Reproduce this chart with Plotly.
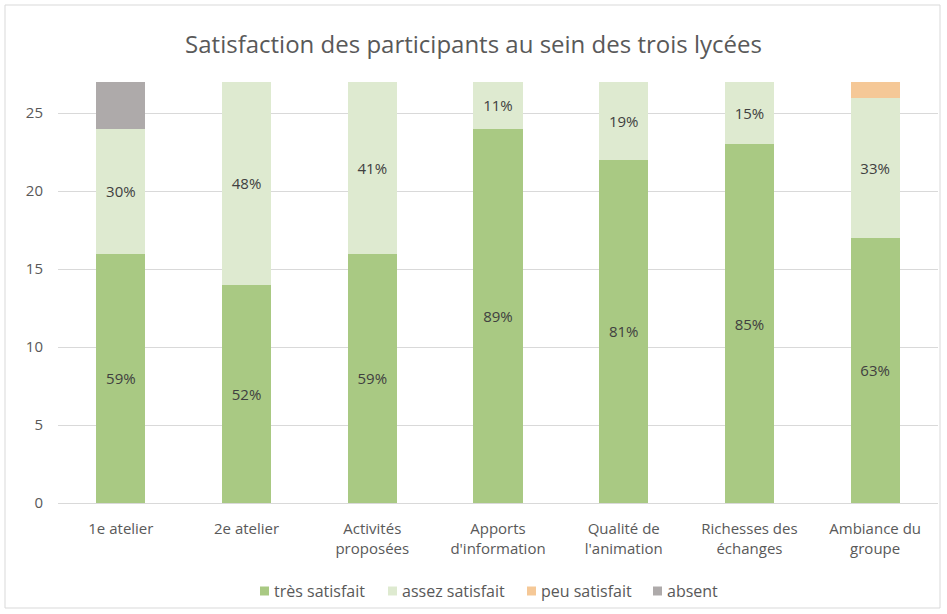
import plotly.graph_objects as go

categories = ["1e atelier", "2e atelier", "Activités<br>proposées", "Apports<br>d'information",
              "Qualité de<br>l'animation", "Richesses des<br>échanges", "Ambiance du<br>groupe"]
tres_satisfait = [16, 14, 16, 24, 22, 23, 17]
assez_satisfait = [8, 13, 11, 3, 5, 4, 9]
peu_satisfait = [0, 0, 0, 0, 0, 0, 1]
absent = [3, 0, 0, 0, 0, 0, 0]
y_ticks = [0, 5, 10, 15, 20, 25]

totals = [a + b + c + d for a, b, c, d in zip(tres_satisfait, assez_satisfait, peu_satisfait, absent)]

def pct(vals):
    return [f"{round(v / t * 100)}%" if v else "" for v, t in zip(vals, totals)]

FONT = "Open Sans"
TXT = "#595959"

fig = go.Figure()
series = [
    ("très satisfait", tres_satisfait, "#A9C983", True),
    ("assez satisfait", assez_satisfait, "#DEEAD0", True),
    ("peu satisfait", peu_satisfait, "#F5C897", False),
    ("absent", absent, "#AEAAAA", False),
]
for name, vals, col, lab in series:
    fig.add_trace(go.Bar(
        name=name, x=categories, y=vals, marker=dict(color=col, line=dict(width=0)),
        text=pct(vals) if lab else None,
        textposition="inside" if lab else "none",
        insidetextanchor="middle",
        textfont=dict(family=FONT, size=15, color="#404040"),
        hoverinfo="name+y", showlegend=False,
    ))

L, R, T, B = 58, 9, 82, 111
W, H = 947, 614
pw, ph = W - L - R, H - T - B

def px(x):
    return (x - L) / pw

def py(y):
    return ((H - B) - y) / ph

# manual legend (pixel positions of swatches)
legend_x = [260, 388, 527, 653]
legend_y = 591
shapes = [dict(type="rect", xref="paper", yref="paper",
               x0=px(5), x1=px(940), y0=py(608), y1=py(5),
               line=dict(color="#D9D9D9", width=1), fillcolor="rgba(0,0,0,0)",
               layer="below")]
annotations = []
for (name, vals, col, lab), lx in zip(series, legend_x):
    shapes.append(dict(type="rect", xref="paper", yref="paper",
                       x0=px(lx), x1=px(lx + 9), y0=py(legend_y + 4.5), y1=py(legend_y - 4.5),
                       line=dict(width=0), fillcolor=col))
    annotations.append(dict(text=name, xref="paper", yref="paper", x=px(lx + 12), y=py(legend_y),
                            xanchor="left", yanchor="middle", showarrow=False,
                            font=dict(family=FONT, size=16, color=TXT)))

fig.update_layout(
    barmode="stack",
    bargap=0.61,
    width=W, height=H,
    margin=dict(l=L, r=R, t=T, b=B),
    paper_bgcolor="white", plot_bgcolor="white",
    font=dict(family=FONT, color=TXT, size=15),
    title=dict(text="Satisfaction des participants au sein des trois lycées",
               x=0.5, xanchor="center", y=1 - 45 / H, yanchor="middle",
               font=dict(family=FONT, size=24, color=TXT)),
    xaxis=dict(showgrid=False, showline=True, linecolor="#D9D9D9", linewidth=1,
               ticks="", tickfont=dict(family=FONT, size=15, color=TXT), ticklabelstandoff=12),
    yaxis=dict(range=[0, 27], tickvals=y_ticks, showgrid=True, gridcolor="#D9D9D9",
               gridwidth=1, zeroline=False, showline=False, ticks="",
               tickfont=dict(family=FONT, size=15, color=TXT), ticklabelstandoff=14),
    showlegend=False,
    shapes=shapes,
    annotations=annotations,
)

fig.write_html("out.html", config={"displayModeBar": False},
               post_script="document.body.style.margin='0';")
